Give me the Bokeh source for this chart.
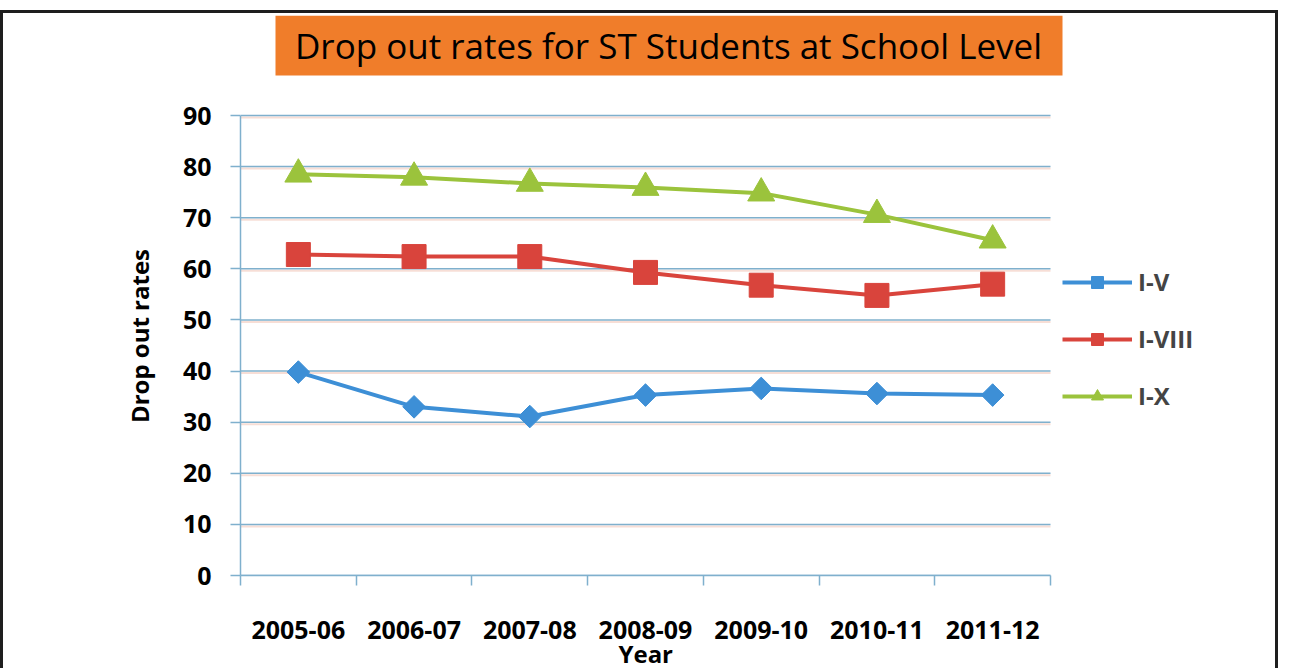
from bokeh.plotting import figure
from bokeh.models import (Range1d, LinearAxis, FixedTicker, Legend, LegendItem, Label, BoxAnnotation)
from bokeh.embed import file_html
from bokeh.resources import INLINE

years = ["2005-06", "2006-07", "2007-08", "2008-09", "2009-10", "2010-11", "2011-12"]
i_v = [39.8, 33.0, 31.1, 35.3, 36.6, 35.6, 35.3]
i_viii = [62.8, 62.4, 62.4, 59.3, 56.8, 54.8, 57.0]
i_x = [78.5, 77.9, 76.7, 75.9, 74.8, 70.6, 65.6]
y_ticks = [0, 10, 20, 30, 40, 50, 60, 70, 80, 90]
title_text = "Drop out rates for ST Students at School Level"
y_label = "Drop out rates"
x_label = "Year"

# category centres on a numeric axis (one unit per category)
n = len(years)
xpos = [i + 0.5 for i in range(n)]
bounds = list(range(n + 1))
y_max = y_ticks[-1]

FONT = "Open Sans"
AXIS_BLUE = "#7fb0cd"
SHADOW = "#f2c8bb"
BLUE = "#3d8fd6"
RED = "#d9443c"
GREEN = "#9bc33c"
ORANGE = "#f07d2a"
NBSP = "\u00a0"

# layout (pixels): the frame also holds the title band on top and the legend on the right
PLOT_W, PLOT_H = 810, 460
FRAME_W, FRAME_H = 1010, 560
x_end = n * FRAME_W / PLOT_W
y_end = y_max * FRAME_H / PLOT_H
px_x = lambda px: px / PLOT_W * n            # pixel offset from plot left -> data x
px_y = lambda px: px / PLOT_H * y_max        # pixel offset above plot bottom -> data y

p = figure(frame_width=FRAME_W, frame_height=FRAME_H,
           x_range=Range1d(0, x_end), y_range=Range1d(0, y_end),
           output_backend="svg", toolbar_location=None, x_axis_location=None,
           min_border_left=237, min_border_right=25, min_border_top=2, min_border_bottom=80)
p.styles = {"border-top": "3px solid #1e1e1e", "border-left": "3px solid #1e1e1e",
            "border-right": "3px solid #1e1e1e", "margin-top": "10px"}
p.outline_line_color = None
p.background_fill_color = "white"
p.border_fill_color = "white"
p.xgrid.visible = False
p.ygrid.visible = False

# horizontal gridlines limited to the category area (with the faint warm shadow of the original)
p.segment(x0=0, x1=n, y0=[t - px_y(2) for t in y_ticks], y1=[t - px_y(2) for t in y_ticks],
          line_color=SHADOW, line_width=2, line_alpha=0.6)
p.segment(x0=0, x1=n, y0=y_ticks, y1=y_ticks, line_color=AXIS_BLUE, line_width=1.5)

# title band
p.add_layout(BoxAnnotation(left=px_x(35), right=px_x(822), bottom=px_y(500), top=y_end,
                           fill_color=ORANGE, fill_alpha=1, line_color=None))
p.add_layout(Label(x=px_x(428), y=px_y(530), text=title_text, text_font=FONT,
                   text_font_size="35px", text_color="black",
                   text_align="center", text_baseline="middle"))

ya = p.yaxis[0]
ya.ticker = FixedTicker(ticks=y_ticks)
ya.bounds = (0, y_max)
ya.axis_line_color = AXIS_BLUE
ya.axis_line_width = 1.5
ya.major_tick_line_color = AXIS_BLUE
ya.major_tick_line_width = 1.5
ya.major_tick_out = 10
ya.major_tick_in = 0
ya.minor_tick_line_color = None
ya.major_label_text_font = FONT
ya.major_label_text_font_style = "bold"
ya.major_label_text_font_size = "25px"
ya.major_label_text_color = "black"
ya.major_label_standoff = 19
# trailing no-break spaces centre the label on the 0-90 span rather than the taller frame
ya.axis_label = y_label + NBSP * 13
ya.axis_label_text_font = FONT
ya.axis_label_text_font_style = "bold"
ya.axis_label_text_font_size = "24px"
ya.axis_label_text_color = "black"
ya.axis_label_standoff = 24

tick_axis = LinearAxis(ticker=FixedTicker(ticks=bounds), bounds=(0, n))
tick_axis.axis_line_color = AXIS_BLUE
tick_axis.axis_line_width = 1.5
tick_axis.major_tick_line_color = AXIS_BLUE
tick_axis.major_tick_line_width = 1.5
tick_axis.major_tick_out = 10
tick_axis.major_tick_in = 0
tick_axis.minor_tick_line_color = None
tick_axis.major_label_overrides = {b: "" for b in bounds}
tick_axis.major_label_text_font_size = "1px"
tick_axis.major_label_standoff = 0
p.add_layout(tick_axis, "below")

cat_axis = LinearAxis(ticker=FixedTicker(ticks=xpos), bounds=(0, n))
cat_axis.major_label_overrides = {x: y for x, y in zip(xpos, years)}
cat_axis.axis_line_color = None
cat_axis.major_tick_line_color = None
cat_axis.minor_tick_line_color = None
cat_axis.major_label_text_font = FONT
cat_axis.major_label_text_font_style = "bold"
cat_axis.major_label_text_font_size = "25px"
cat_axis.major_label_text_color = "black"
cat_axis.major_label_standoff = 29
# trailing no-break spaces centre the label under the categories rather than the wider frame
cat_axis.axis_label = x_label + NBSP * 32
cat_axis.axis_label_text_font = FONT
cat_axis.axis_label_text_font_style = "bold"
cat_axis.axis_label_text_font_size = "24px"
cat_axis.axis_label_text_color = "black"
cat_axis.axis_label_standoff = -5
p.add_layout(cat_axis, "below")

l1 = p.line(xpos, i_v, line_color=BLUE, line_width=4)
m1 = p.scatter(xpos, i_v, marker="square", size=16, angle=0.785398, fill_color=BLUE, line_color=BLUE)
l2 = p.line(xpos, i_viii, line_color=RED, line_width=4)
m2 = p.scatter(xpos, i_viii, marker="square", size=24, fill_color=RED, line_color=RED)
l3 = p.line(xpos, i_x, line_color=GREEN, line_width=4)
m3 = p.scatter(xpos, i_x, marker="triangle", size=27, fill_color=GREEN, line_color=GREEN)

legend = Legend(items=[LegendItem(label="I-V", renderers=[l1, m1]),
                       LegendItem(label="I-VIII", renderers=[l2, m2]),
                       LegendItem(label="I-X", renderers=[l3, m3])],
                location=(822, 163), glyph_width=70, glyph_height=30, label_height=30, spacing=24,
                label_text_font=FONT, label_text_font_style="bold", label_text_font_size="24px",
                label_standoff=6, background_fill_alpha=0, border_line_color=None, padding=0, margin=0)
p.add_layout(legend)

open("out.html", "w").write(file_html(p, INLINE))
